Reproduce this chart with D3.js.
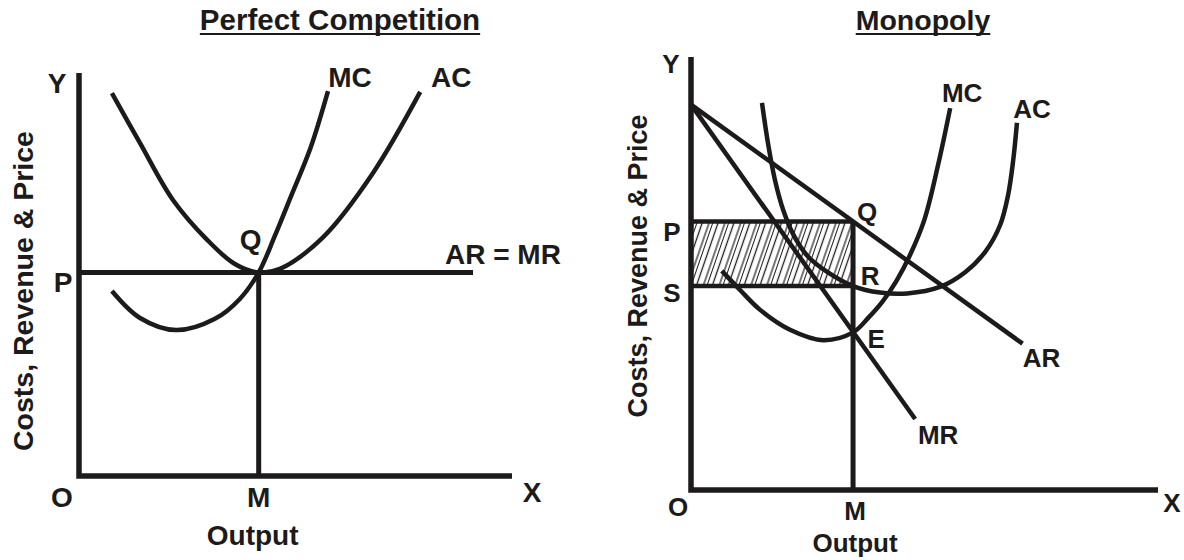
<!DOCTYPE html>
<html><head><meta charset="utf-8">
<script src="https://cdn.jsdelivr.net/npm/d3@7"></script>
<style>
html,body{margin:0;padding:0;background:#fff;}
svg text{font-family:"Liberation Sans",Arial,sans-serif;font-weight:bold;fill:#1c1a1a;}
</style></head>
<body>
<svg id="c" width="1184" height="560"></svg>
<script>
// ---------- DATA (economic units 0-100) ----------
const titles = ["Perfect Competition", "Monopoly"];
const xAxisTitle = "Output";
const yAxisTitle = "Costs, Revenue & Price";

// Perfect competition
const pcAC = [[7.6,95.0],[14.1,82.6],[21.7,68.5],[29.6,58.6],[36.0,52.6],[41.5,50.5],[46.4,51.4],[56.4,59.3],[67.9,75.2],[78.8,95.3]];
const pcMC = [[7.6,45.9],[14.1,39.2],[22.4,36.2],[31.4,39.0],[37.2,44.0],[41.5,50.5],[45.2,59.5],[49.0,69.5],[53.5,81.5],[57.5,95.5]];
const pcPrice = 50.5;      // AR = MR
const pcOutput = 41.5;     // M
const pcLineEnd = 91;

// Monopoly
const mAR = [[0,89],[71,33.8]];
const mMR = [[0,89],[48,16.4]];
const mMC = [[6.6,50.6],[10.5,46.2],[14.8,41.6],[21.2,37.0],[28.3,34.6],[34.7,36.4],[38.0,39.8],[41.0,43.5],[44.0,48.3],[47.0,54.5],[50.0,62.5],[53.0,75.5],[55.5,88.2]];
const mAC = [[15.2,89.4],[16.5,80.0],[18.0,71.5],[19.8,64.5],[22.0,58.8],[25.0,54.0],[29.0,50.5],[34.7,47.1],[40.5,45.6],[46.3,45.4],[53.3,46.9],[58.7,50.3],[63.0,55.0],[66.2,61.2],[67.9,68.1],[69.0,76.2],[69.8,84.8]];
const mPrice = 62;   // P
const mCost = 47.1;  // S
const mOutput = 34.7;// M

// ---------- DRAW ----------
const ink = "#1c1a1a";
const svg = d3.select("#c");

const defs = svg.append("defs");
const pat = defs.append("pattern").attr("id","hatch").attr("patternUnits","userSpaceOnUse")
  .attr("width",15).attr("height",20).attr("patternTransform","rotate(19)");
pat.append("line").attr("x1",1.5).attr("y1",-1).attr("x2",1.5).attr("y2",21).attr("stroke",ink).attr("stroke-width",1.3);
pat.append("line").attr("x1",8).attr("y1",-1).attr("x2",8).attr("y2",21).attr("stroke",ink).attr("stroke-width",1.2);
pat.append("line").attr("x1",11.5).attr("y1",-1).attr("x2",11.5).attr("y2",21).attr("stroke",ink).attr("stroke-width",1.0);

function panel(o){
  const g = svg.append("g");
  const sx = d3.scaleLinear().domain([0,100]).range(o.xr);
  const sy = d3.scaleLinear().domain([0,100]).range(o.yr);
  const line = d3.line().x(d=>sx(d[0])).y(d=>sy(d[1])).curve(d3.curveCatmullRom.alpha(0.5));
  return {g,sx,sy,line};
}
function txt(g,x,y,s,size,anchor){
  return g.append("text").attr("x",x).attr("y",y).attr("text-anchor",anchor||"middle")
    .attr("font-size",size).text(s);
}
function path(g,d,w){
  return g.append("path").attr("d",d).attr("fill","none").attr("stroke",ink).attr("stroke-width",w||4.5);
}
function title(x,s,size){
  const t = txt(svg,x,30,s,size);
  const w = t.node().getComputedTextLength();
  svg.append("line").attr("x1",x-w/2).attr("x2",x+w/2).attr("y1",34).attr("y2",34).attr("stroke",ink).attr("stroke-width",2);
}

// ----- Perfect competition -----
{
  const {g,sx,sy,line} = panel({xr:[79,512], yr:[476,73]});
  path(g,line(pcAC));
  path(g,line(pcMC));
  // AR = MR
  path(g,d3.line()([[sx(0),sy(pcPrice)],[sx(pcLineEnd),sy(pcPrice)]]),5);
  // vertical at M
  path(g,d3.line()([[sx(pcOutput),sy(pcPrice)],[sx(pcOutput),sy(0)]]),5);
  // axes
  path(g,d3.line()([[sx(0),sy(100)],[sx(0),sy(0)],[sx(100),sy(0)]]),5.5).attr("stroke-linejoin","miter");
  const fs = 28;
  txt(g,sx(0)-22,sy(100)+20,"Y",fs);
  txt(g,sx(0)-16,sy(pcPrice)+20,"P",fs);
  txt(g,sx(0)-17,sy(0)+31,"O",fs);
  txt(g,sx(pcOutput),sy(0)+31,"M",fs);
  txt(g,sx(100)+20,sy(0)+26,"X",fs);
  txt(g,sx(pcOutput)-6,sy(0)+69,xAxisTitle,fs);
  txt(g,sx(57.5)+22,sy(95.5)-4,"MC",fs);
  txt(g,sx(78.8)+31,sy(95.3)-5,"AC",fs);
  txt(g,sx(pcOutput)-8,sy(pcPrice)-23,"Q",fs);
  txt(g,445,sy(pcPrice)-8,"AR = MR",fs,"start");
  txt(g,0,0,yAxisTitle,28.5).attr("transform",`translate(33,291) rotate(-90)`);
}
title(340,titles[0],29.5);

// ----- Monopoly -----
{
  const {g,sx,sy,line} = panel({xr:[691,1158], yr:[490,57]});
  // hatched area
  g.append("rect").attr("x",sx(0)).attr("y",sy(mPrice)).attr("width",sx(mOutput)-sx(0))
    .attr("height",sy(mCost)-sy(mPrice)).attr("fill","url(#hatch)");
  path(g,d3.line()([[sx(0),sy(mPrice)],[sx(mOutput),sy(mPrice)]]),4.5);
  path(g,d3.line()([[sx(0),sy(mCost)],[sx(mOutput),sy(mCost)]]),4.5);
  path(g,d3.line()([[sx(mOutput),sy(mPrice)],[sx(mOutput),sy(0)]]),5);
  path(g,d3.line().x(d=>sx(d[0])).y(d=>sy(d[1]))(mAR),4.5);
  path(g,d3.line().x(d=>sx(d[0])).y(d=>sy(d[1]))(mMR),4.5);
  path(g,line(mMC));
  path(g,line(mAC));
  path(g,d3.line()([[sx(0),sy(100)],[sx(0),sy(0)],[sx(100),sy(0)]]),5.5).attr("stroke-linejoin","miter");
  const fs = 26;
  txt(g,sx(0)-20,sy(100)+16,"Y",fs);
  txt(g,sx(0)-19,sy(mPrice)+19,"P",fs);
  txt(g,sx(0)-19,sy(mCost)+16,"S",fs);
  txt(g,sx(0)-13,sy(0)+26,"O",fs);
  txt(g,sx(mOutput)+2,sy(0)+30,"M",fs);
  txt(g,sx(100)+14,sy(0)+22,"X",fs);
  txt(g,sx(mOutput)+2,sy(0)+62,xAxisTitle,fs);
  txt(g,sx(55.5)+12,sy(88.2)-6,"MC",fs);
  txt(g,sx(69.8)+15,sy(84.8)-5,"AC",fs);
  txt(g,sx(mOutput)+14,sy(mPrice)-1,"Q",fs);
  txt(g,sx(mOutput)+17,sy(mCost)-1,"R",fs);
  txt(g,sx(mOutput)+23,sy(36.4)+16,"E",fs);
  txt(g,sx(71)+19,sy(33.8)+23,"AR",fs);
  txt(g,sx(48)+23,sy(16.4)+25,"MR",fs);
  txt(g,0,0,yAxisTitle,27).attr("transform",`translate(647,266) rotate(-90)`);
}
title(923,titles[1],28.5);
</script>
</body></html>
